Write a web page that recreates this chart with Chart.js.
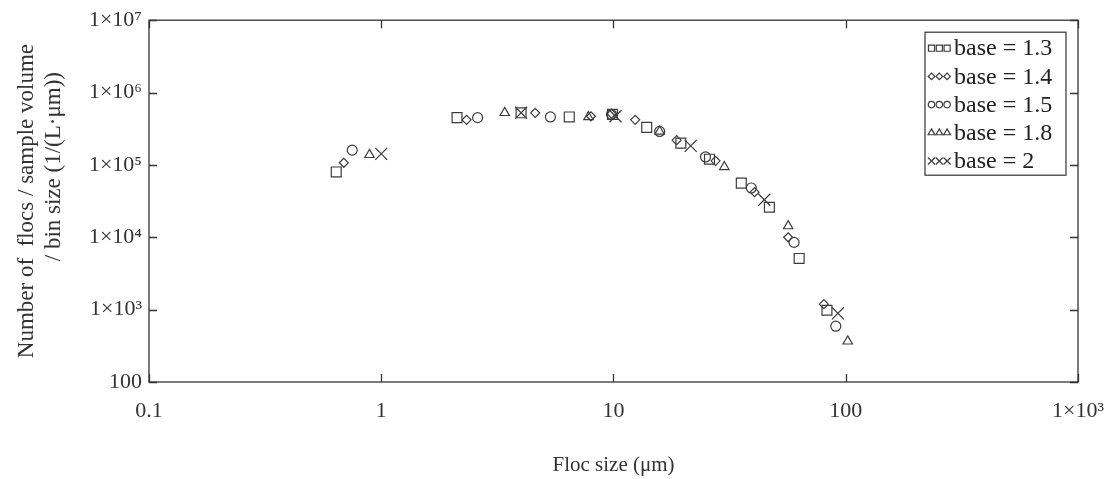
<!DOCTYPE html>
<html>
<head>
<meta charset="utf-8">
<script src="https://cdn.jsdelivr.net/npm/chart.js@4.4.0/dist/chart.umd.min.js"></script>
<style>
  html, body { margin: 0; padding: 0; background: #fff; }
</style>
</head>
<body>
<canvas id="flocChart" width="1120" height="479"></canvas>
<script>
// axis ticks
const xTicks = [0.1, 1, 10, 100, 1000];
const xTickLabels = ['0.1', '1', '10', '100', '1×10³'];
const yTicks = [100, 1e3, 1e4, 1e5, 1e6, 1e7];
const yTickLabels = ['100', '1×10³', '1×10⁴', '1×10⁵', '1×10⁶', '1×10⁷'];

// floc size distributions for each bin base
const seriesNames = ['base = 1.3', 'base = 1.4', 'base = 1.5', 'base = 1.8', 'base = 2'];

const size13 = [0.64, 2.12, 4.0, 6.45, 9.9, 13.9, 19.5, 25.9, 35.5, 46.9, 63, 83];
const count13 = [8.0e4, 4.5e5, 5.25e5, 4.6e5, 5.0e5, 3.3e5, 2.0e5, 1.2e5, 5.6e4, 2.6e4, 5.1e3, 980];

const size14 = [0.69, 2.33, 4.6, 8.0, 9.8, 12.4, 18.7, 27.5, 40.5, 56.5, 80.5];
const count14 = [1.07e5, 4.2e5, 5.25e5, 4.7e5, 5.1e5, 4.2e5, 2.2e5, 1.14e5, 4.2e4, 1.0e4, 1.19e3];

const size15 = [0.75, 2.6, 5.35, 9.8, 15.8, 24.9, 39.2, 59.9, 90.6];
const count15 = [1.6e5, 4.5e5, 4.6e5, 5.0e5, 2.9e5, 1.29e5, 4.8e4, 8.5e3, 590];

const size18 = [0.89, 3.4, 7.8, 15.8, 30, 56.5, 102];
const count18 = [1.38e5, 5.25e5, 4.6e5, 2.9e5, 9.4e4, 1.43e4, 365];

const size20 = [1.0, 4.0, 10.2, 21.5, 44.6, 92.5];
const count20 = [1.42e5, 5.25e5, 4.7e5, 1.83e5, 3.3e4, 890];

const ink = '#3c3c3c';
const serif = 'Liberation Serif';

function pairs(xs, ys) {
  return xs.map((x, i) => ({ x: x, y: ys[i] }));
}

const markers = [
  { style: 'rect', r: 7, legendR: 4.3 },
  { style: 'rectRot', r: 4.5, legendR: 3.3 },
  { style: 'circle', r: 5, legendR: 3.2 },
  { style: 'triangle', r: 5.4, legendR: 3.9 },
  { style: 'crossRot', r: 8.5, legendR: 5 }
];

const allSizes = [size13, size14, size15, size18, size20];
const allCounts = [count13, count14, count15, count18, count20];

const datasets = seriesNames.map((name, i) => ({
  label: name,
  data: pairs(allSizes[i], allCounts[i]),
  showLine: false,
  pointStyle: markers[i].style,
  pointRadius: markers[i].r,
  pointBorderColor: ink,
  pointBackgroundColor: 'rgba(0,0,0,0)',
  pointBorderWidth: 1.2
}));

// box round the plot with inward ticks on all four sides
const frame = {
  id: 'frame',
  afterDatasetsDraw(chart) {
    const { ctx, chartArea: a, scales } = chart;
    const len = 8;
    ctx.save();
    ctx.strokeStyle = '#333';
    ctx.lineWidth = 1.3;
    ctx.strokeRect(a.left, a.top, a.right - a.left, a.bottom - a.top);
    ctx.beginPath();
    xTicks.forEach(v => {
      const px = Math.round(scales.x.getPixelForValue(v)) + 0.5;
      ctx.moveTo(px, a.bottom); ctx.lineTo(px, a.bottom - len);
      ctx.moveTo(px, a.top); ctx.lineTo(px, a.top + len);
    });
    yTicks.forEach(v => {
      const py = Math.round(scales.y.getPixelForValue(v)) + 0.5;
      ctx.moveTo(a.left, py); ctx.lineTo(a.left + len, py);
      ctx.moveTo(a.right, py); ctx.lineTo(a.right - len, py);
    });
    ctx.stroke();
    ctx.restore();
  }
};

// legend with three hollow markers per entry
const markerLegend = {
  id: 'markerLegend',
  afterDraw(chart) {
    const { ctx, chartArea: a } = chart;
    const right = a.right - 12, top = a.top + 12;
    const w = 141, h = 143, row = 28.2;
    const left = right - w;
    ctx.save();
    ctx.fillStyle = '#fff';
    ctx.fillRect(left, top, w, h);
    ctx.strokeStyle = '#333';
    ctx.lineWidth = 1.2;
    ctx.strokeRect(left, top, w, h);
    ctx.textBaseline = 'middle';
    seriesNames.forEach((name, i) => {
      const cy = top + 16 + i * row;
      ctx.strokeStyle = ink;
      ctx.fillStyle = 'rgba(0,0,0,0)';
      for (let k = 0; k < 3; k++) {
        Chart.helpers.drawPoint(ctx, {
          pointStyle: markers[i].style,
          radius: markers[i].legendR,
          rotation: 0,
          borderWidth: 1
        }, left + 6.5 + k * 7.8, cy);
      }
      ctx.font = '24px "' + serif + '"';
      ctx.fillStyle = '#222';
      ctx.fillText(name, left + 29, cy + 1);
    });
    ctx.restore();
  }
};

const tickFont = { family: serif, size: 22 };

new Chart(document.getElementById('flocChart'), {
  type: 'scatter',
  data: { datasets: datasets },
  options: {
    responsive: false,
    animation: false,
    devicePixelRatio: 1,
    layout: { padding: { top: 20, right: 38, left: 0, bottom: 0 } },
    plugins: {
      legend: { display: false },
      tooltip: { enabled: false }
    },
    scales: {
      x: {
        type: 'logarithmic',
        min: 0.1,
        max: 1000,
        afterBuildTicks: s => { s.ticks = xTicks.map(v => ({ value: v })); },
        afterFit: s => { s.height = 97; },
        grid: { display: false, drawTicks: false },
        border: { display: false },
        ticks: {
          autoSkip: false,
          maxRotation: 0,
          padding: 16,
          color: '#333',
          font: tickFont,
          callback: (v, i) => xTickLabels[i]
        },
        title: {
          display: true,
          text: 'Floc size (μm)',
          color: '#333',
          font: { family: serif, size: 21 },
          padding: { top: 0, bottom: 1 }
        }
      },
      y: {
        type: 'logarithmic',
        min: 100,
        max: 1e7,
        afterBuildTicks: s => { s.ticks = yTicks.map(v => ({ value: v })); },
        afterFit: s => { s.width = 149; },
        grid: { display: false, drawTicks: false },
        border: { display: false },
        ticks: {
          autoSkip: false,
          padding: 7,
          color: '#333',
          font: tickFont,
          callback: (v, i) => yTickLabels[i]
        },
        title: {
          display: true,
          text: ['Number of  flocs / sample volume', '            / bin size (1/(L·μm))'],
          color: '#333',
          font: { family: serif, size: 23, lineHeight: 1.15 },
          padding: { top: 14, bottom: 0 }
        }
      }
    }
  },
  plugins: [frame, markerLegend]
});
</script>
</body>
</html>
